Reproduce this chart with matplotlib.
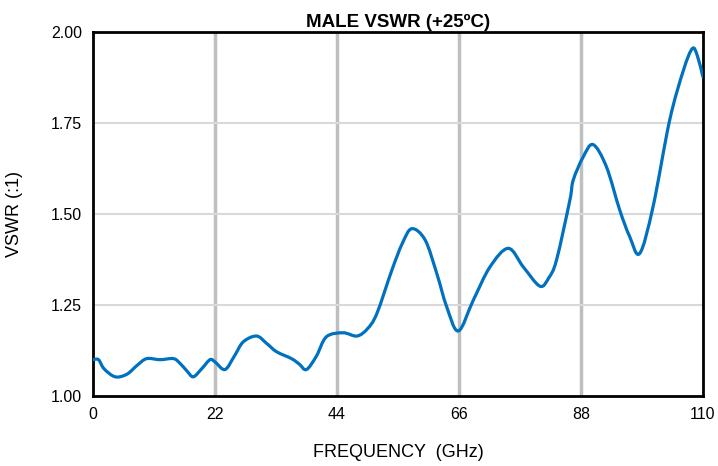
import matplotlib
matplotlib.use("Agg")
import matplotlib.pyplot as plt
from matplotlib.path import Path
from matplotlib.patches import PathPatch

plt.rcParams['font.family'] = ['Liberation Sans', 'DejaVu Sans']

freq_ghz = [0, 1.0, 2.0, 4.0, 6.1, 8.0, 9.7, 12.1, 14.5, 15.7, 17.0, 18.1, 19.6, 21.1, 22.0,
            23.8, 25.5, 27.1, 29.5, 31.3, 33.1, 35.8, 37.2, 38.5, 40.3, 42.1, 45.1, 47.6,
            49.5, 51.2, 53.9, 55.8, 57.5, 59.9, 62.0, 63.8, 65.9, 68.6, 71.6, 74.9, 77.6,
            80.6, 82.2, 83.6, 86.0, 86.6, 88.4, 90.2, 92.6, 95.0, 96.8, 98.6, 101.0, 104.0,
            106.5, 108.1, 109.0, 110.0]
vswr = [1.100, 1.100, 1.075, 1.053, 1.060, 1.085, 1.103, 1.100, 1.103, 1.090, 1.068, 1.053,
        1.075, 1.100, 1.094, 1.073, 1.110, 1.149, 1.165, 1.145, 1.122, 1.103, 1.088, 1.073,
        1.110, 1.163, 1.174, 1.165, 1.185, 1.227, 1.346, 1.420, 1.460, 1.429, 1.337, 1.245,
        1.179, 1.264, 1.355, 1.406, 1.355, 1.302, 1.325, 1.374, 1.538, 1.593, 1.657, 1.691,
        1.630, 1.511, 1.438, 1.392, 1.520, 1.758, 1.896, 1.955, 1.935, 1.877]

x_ticks = [0, 22, 44, 66, 88, 110]
y_ticks = [1.00, 1.25, 1.50, 1.75, 2.00]


def smooth_path(xs, ys, tension=1 / 6):
    """Spreadsheet-style smoothed line: cubic Bezier through every data point."""
    pts = list(zip(xs, ys))
    verts = [pts[0]]
    codes = [Path.MOVETO]
    n = len(pts)
    for i in range(n - 1):
        p0 = pts[i - 1] if i > 0 else pts[i]
        p1 = pts[i]
        p2 = pts[i + 1]
        p3 = pts[i + 2] if i + 2 < n else pts[i + 1]
        c1 = (p1[0] + (p2[0] - p0[0]) * tension, p1[1] + (p2[1] - p0[1]) * tension)
        c2 = (p2[0] - (p3[0] - p1[0]) * tension, p2[1] - (p3[1] - p1[1]) * tension)
        verts += [c1, c2, p2]
        codes += [Path.CURVE4] * 3
    return Path(verts, codes)


fig = plt.figure(figsize=(7.18, 4.66), dpi=100)
ax = fig.add_axes([0.1295, 0.150, 0.8495, 0.781])

for xv in x_ticks[1:-1]:
    ax.axvline(xv, color='#BFBFBF', lw=2.5, zorder=1)
for yv in y_ticks[1:-1]:
    ax.axhline(yv, color='#D9D9D9', lw=1.5, zorder=1)

patch = PathPatch(smooth_path(freq_ghz, vswr), facecolor='none', edgecolor='#0070C0',
                  lw=2.3, zorder=3, joinstyle='round', capstyle='round')
patch.set_clip_on(True)
ax.add_patch(patch)

ax.set_xlim(0, 110)
ax.set_ylim(1.0, 2.0)
ax.set_xticks(x_ticks)
ax.set_yticks(y_ticks)
ax.set_yticklabels([f"{v:.2f}" for v in y_ticks])
ax.tick_params(length=0, labelsize=11.5, pad=8, colors='#000000')
for s in ax.spines.values():
    s.set_linewidth(2)
    s.set_color('black')

ax.set_xlabel('FREQUENCY  (GHz)', fontsize=13, labelpad=16)
ax.set_ylabel('VSWR (:1)', fontsize=13, labelpad=20)
ax.set_title('MALE VSWR (+25ºC)', fontsize=13.5, fontweight='bold', pad=4)

fig.savefig('out.png', dpi=100)
